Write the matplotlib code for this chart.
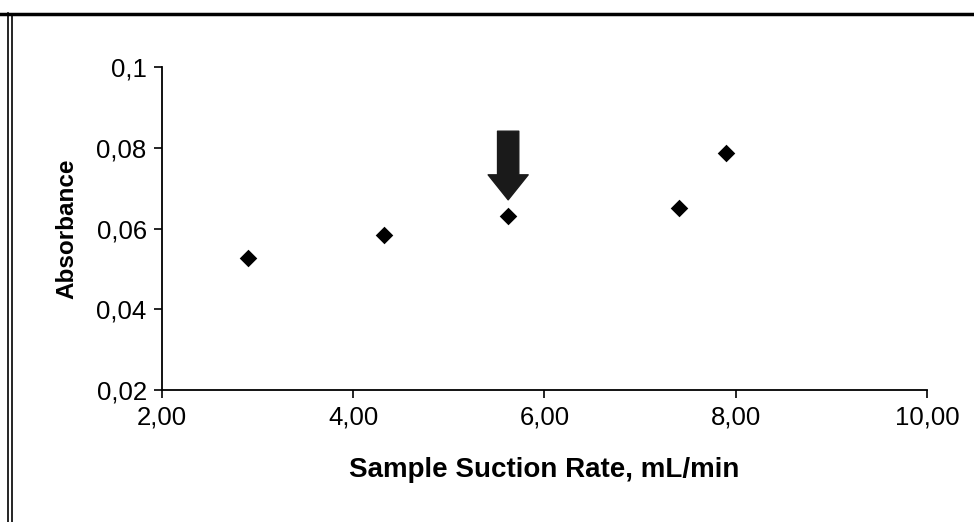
import matplotlib
matplotlib.use("Agg")
import matplotlib.pyplot as plt
from matplotlib.lines import Line2D
from matplotlib.ticker import FixedLocator

plt.rcParams['font.family'] = ['Liberation Sans', 'DejaVu Sans']

suction_rate = [2.90, 4.32, 5.62, 7.41, 7.90]
absorbance = [0.0527, 0.0584, 0.0631, 0.0651, 0.0787]
x_ticks = [2, 4, 6, 8, 10]
y_ticks = [0.02, 0.04, 0.06, 0.08, 0.10]
y_tick_labels = ["0,02", "0,04", "0,06", "0,08", "0,1"]
x_tick_labels = ["2,00", "4,00", "6,00", "8,00", "10,00"]
highlight_x = 5.62

fig = plt.figure(figsize=(9.74, 5.22), dpi=100)
ax = fig.add_axes([162/974, 1-390/522, (927-162)/974, (390-67)/522])

ax.scatter(suction_rate, absorbance, marker='D', s=80, color='black', zorder=3, linewidths=0)

ax.set_xlim(2, 10)
ax.set_ylim(0.02, 0.10)
ax.xaxis.set_major_locator(FixedLocator(x_ticks))
ax.yaxis.set_major_locator(FixedLocator(y_ticks))
ax.set_xticklabels(x_tick_labels)
ax.set_yticklabels(y_tick_labels)
ax.tick_params(direction='out', length=6, width=1.2, labelsize=18.5, colors='black')
ax.tick_params(axis='y', pad=5)
ax.tick_params(axis='x', pad=5)
for s in ['top', 'right']:
    ax.spines[s].set_visible(False)
for s in ['left', 'bottom']:
    ax.spines[s].set_linewidth(1.3)

ax.set_xlabel("Sample Suction Rate, mL/min", fontsize=20, fontweight='bold', labelpad=20)
ax.set_ylabel("Absorbance", fontsize=17.5, fontweight='bold', labelpad=13)

# arrow pointing at the highlighted point
ax.annotate("", xy=(highlight_x, 0.0671), xytext=(highlight_x, 0.0841),
            arrowprops=dict(arrowstyle="simple,head_width=1.6,head_length=1.0,tail_width=0.85",
                            color='#1a1a1a', shrinkA=0, shrinkB=0, mutation_scale=18))

# outer frame lines
fig.add_artist(Line2D([0, 1], [1-14/522, 1-14/522], transform=fig.transFigure, color='black', lw=2.5))
fig.add_artist(Line2D([8/974, 8/974], [0, 1-13/522], transform=fig.transFigure, color='black', lw=1.2))
fig.add_artist(Line2D([11.5/974, 11.5/974], [0, 1-15/522], transform=fig.transFigure, color='black', lw=1.2))

fig.savefig("out.png", dpi=100, facecolor='white')
